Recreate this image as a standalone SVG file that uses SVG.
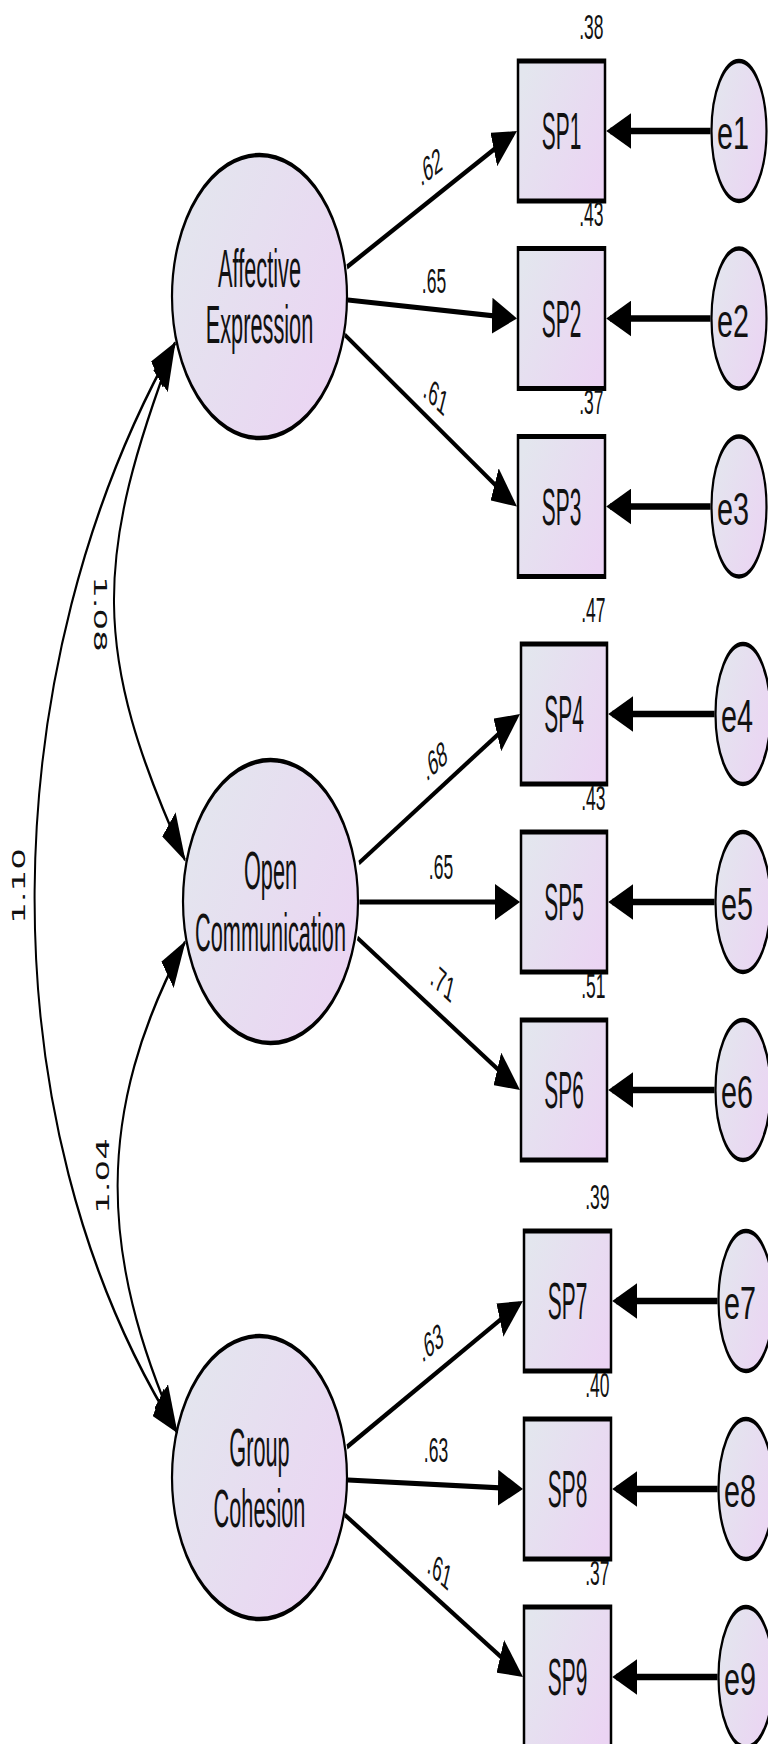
<svg xmlns="http://www.w3.org/2000/svg" width="768" height="1744" viewBox="0 0 768 1744">
  <style>
    .shape { fill: url(#fillGrad); stroke: #000; }
    .latent { stroke-width: 2.2; }
    .obs { stroke-width: 2.5; }
    .err { stroke-width: 2.2; }
    .load { stroke: #000; stroke-width: 2.6; fill: none; marker-end: url(#head); }
    .eline { stroke: #000; stroke-width: 3.2; fill: none; marker-end: url(#head); }
    .cov { stroke: #000; stroke-width: 2; fill: none; marker-start: url(#headc); marker-end: url(#headc); }
    text { font-family: "Liberation Sans", Arial, sans-serif; fill: #111; }
    .lv { font-size: 26.5px; text-anchor: middle; }
    .ov { font-size: 25.5px; text-anchor: middle; }
    .ev { font-size: 23px; text-anchor: middle; }
    .num { font-size: 17.5px; text-anchor: middle; }
    .r2 { font-size: 17.5px; text-anchor: end; }
    .cv { font-family: "DejaVu Sans", sans-serif; font-size: 17px; text-anchor: middle; }
  </style>
  <defs>
    <linearGradient id="fillGrad" x1="0" y1="0.2" x2="1" y2="0.8">
      <stop offset="0" stop-color="#E3E6EE"/>
      <stop offset="1" stop-color="#EBD4F3"/>
    </linearGradient>
    <marker id="head" markerUnits="userSpaceOnUse" markerWidth="25" markerHeight="18" viewBox="0 0 25 18" refX="21" refY="9" orient="auto">
      <path d="M0,0 L25,9 L0,18 z" fill="#000"/>
    </marker>
    <marker id="headc" markerUnits="userSpaceOnUse" markerWidth="25" markerHeight="18" viewBox="0 0 25 18" refX="24" refY="9" orient="auto-start-reverse">
      <path d="M0,0 L25,9 L0,18 z" fill="#000"/>
    </marker>
  </defs>

  <!-- drawing space is compressed vertically by half and stretched back -->
  <g transform="scale(1,2)">

    <!-- latent factors -->
    <g id="affective-expression">
      <ellipse class="shape latent" cx="259.5" cy="148.25" rx="87.5" ry="70.75"/>
      <text class="lv" transform="translate(259.5,143.5) scale(0.82,1)">Affective</text>
      <text class="lv" transform="translate(259.5,171.5) scale(0.82,1)">Expression</text>
    </g>
    <g id="open-communication">
      <ellipse class="shape latent" cx="270.5" cy="450.75" rx="87.5" ry="70.75"/>
      <text class="lv" transform="translate(270.5,444.5) scale(0.82,1)">Open</text>
      <text class="lv" transform="translate(270.5,475.25) scale(0.82,1)">Communication</text>
    </g>
    <g id="group-cohesion">
      <ellipse class="shape latent" cx="259.5" cy="738.75" rx="87.5" ry="70.75"/>
      <text class="lv" transform="translate(259.5,733) scale(0.82,1)">Group</text>
      <text class="lv" transform="translate(259.5,763.5) scale(0.82,1)">Cohesion</text>
    </g>

    <!-- observed items -->
    <g id="sp1">
      <rect class="shape obs" x="518" y="30.5" width="87" height="70"/>
      <text class="ov" transform="translate(561.5,74.5) scale(0.82,1)">SP1</text>
      <text class="r2" x="603.5" y="19.5">.38</text>
    </g>
    <g id="sp2">
      <rect class="shape obs" x="518" y="124.25" width="87" height="70"/>
      <text class="ov" transform="translate(561.5,168.25) scale(0.82,1)">SP2</text>
      <text class="r2" x="603.5" y="113.25">.43</text>
    </g>
    <g id="sp3">
      <rect class="shape obs" x="518" y="218.25" width="87" height="70"/>
      <text class="ov" transform="translate(561.5,262.25) scale(0.82,1)">SP3</text>
      <text class="r2" x="603.5" y="207.25">.37</text>
    </g>
    <g id="sp4">
      <rect class="shape obs" x="521" y="322" width="86" height="70"/>
      <text class="ov" transform="translate(564,366) scale(0.82,1)">SP4</text>
      <text class="r2" x="605.5" y="311">.47</text>
    </g>
    <g id="sp5">
      <rect class="shape obs" x="521" y="416" width="86" height="70"/>
      <text class="ov" transform="translate(564,460) scale(0.82,1)">SP5</text>
      <text class="r2" x="605.5" y="405">.43</text>
    </g>
    <g id="sp6">
      <rect class="shape obs" x="521" y="510" width="86" height="70"/>
      <text class="ov" transform="translate(564,554) scale(0.82,1)">SP6</text>
      <text class="r2" x="605.5" y="499">.51</text>
    </g>
    <g id="sp7">
      <rect class="shape obs" x="524" y="615.5" width="87" height="70"/>
      <text class="ov" transform="translate(567.5,659.5) scale(0.82,1)">SP7</text>
      <text class="r2" x="609.5" y="604.5">.39</text>
    </g>
    <g id="sp8">
      <rect class="shape obs" x="524" y="709.5" width="87" height="70"/>
      <text class="ov" transform="translate(567.5,753.5) scale(0.82,1)">SP8</text>
      <text class="r2" x="609.5" y="698.5">.40</text>
    </g>
    <g id="sp9">
      <rect class="shape obs" x="524" y="803.5" width="87" height="70"/>
      <text class="ov" transform="translate(567.5,847.5) scale(0.82,1)">SP9</text>
      <text class="r2" x="609.5" y="792.5">.37</text>
    </g>

    <!-- error terms -->
    <g id="e1">
      <ellipse class="shape err" cx="739" cy="65.5" rx="27.5" ry="35"/>
      <text class="ev" transform="translate(733,74.5) scale(1.25,1)">e1</text>
    </g>
    <g id="e2">
      <ellipse class="shape err" cx="739" cy="159.25" rx="27.5" ry="35"/>
      <text class="ev" transform="translate(733,168.25) scale(1.25,1)">e2</text>
    </g>
    <g id="e3">
      <ellipse class="shape err" cx="739" cy="253.25" rx="27.5" ry="35"/>
      <text class="ev" transform="translate(733,262.25) scale(1.25,1)">e3</text>
    </g>
    <g id="e4">
      <ellipse class="shape err" cx="743" cy="357" rx="27.5" ry="35"/>
      <text class="ev" transform="translate(737,366) scale(1.25,1)">e4</text>
    </g>
    <g id="e5">
      <ellipse class="shape err" cx="743" cy="451" rx="27.5" ry="35"/>
      <text class="ev" transform="translate(737,460) scale(1.25,1)">e5</text>
    </g>
    <g id="e6">
      <ellipse class="shape err" cx="743" cy="545" rx="27.5" ry="35"/>
      <text class="ev" transform="translate(737,554) scale(1.25,1)">e6</text>
    </g>
    <g id="e7">
      <ellipse class="shape err" cx="746" cy="650.5" rx="27.5" ry="35"/>
      <text class="ev" transform="translate(740,659.5) scale(1.25,1)">e7</text>
    </g>
    <g id="e8">
      <ellipse class="shape err" cx="746" cy="744.5" rx="27.5" ry="35"/>
      <text class="ev" transform="translate(740,753.5) scale(1.25,1)">e8</text>
    </g>
    <g id="e9">
      <ellipse class="shape err" cx="746" cy="838.5" rx="27.5" ry="35"/>
      <text class="ev" transform="translate(740,847.5) scale(1.25,1)">e9</text>
    </g>

    <!-- paths: loadings, residuals, covariances -->
    <g id="connectors">
      <path class="load" d="M347,133.5 L513.3,67"/>
      <path class="load" d="M348,150 L513,159"/>
      <path class="load" d="M345,167.5 L513.4,251.5"/>
      <path class="load" d="M359,431.5 L516.4,358.7"/>
      <path class="load" d="M359.5,451 L516,451"/>
      <path class="load" d="M357.5,469 L516.4,543.3"/>
      <path class="load" d="M347,723.5 L519.3,652"/>
      <path class="load" d="M348,740 L519,744.4"/>
      <path class="load" d="M345,757.5 L519.4,836.8"/>

      <path class="eline" d="M710.5,65.5 H610.25"/>
      <path class="eline" d="M710.5,159.25 H610.25"/>
      <path class="eline" d="M710.5,253.25 H610.25"/>
      <path class="eline" d="M714.5,357 H612.25"/>
      <path class="eline" d="M714.5,451 H612.25"/>
      <path class="eline" d="M714.5,545 H612.25"/>
      <path class="eline" d="M717.5,650.5 H616.25"/>
      <path class="eline" d="M717.5,744.5 H616.25"/>
      <path class="eline" d="M717.5,838.5 H616.25"/>

      <path class="cov" d="M175,171.5 C94,279 90,325 185,430"/>
      <path class="cov" d="M175,171.5 C-6,332 -19,559 177,716"/>
      <path class="cov" d="M185,471 C94,556.5 99,627 177,716"/>

      <text class="num" transform="translate(430,83) rotate(-21.7)" y="6.3">.62</text>
      <text class="num" transform="translate(434,140)" y="6.3">.65</text>
      <text class="num" transform="translate(436,197.5) rotate(26.3)" y="6.3">.61</text>
      <text class="num" transform="translate(435,380) rotate(-24.8)" y="6.3">.68</text>
      <text class="num" transform="translate(441,433)" y="6.3">.65</text>
      <text class="num" transform="translate(443,491) rotate(25.1)" y="6.3">.71</text>
      <text class="num" transform="translate(431,671) rotate(-22.5)" y="6.3">.63</text>
      <text class="num" transform="translate(436,724.5)" y="6.3">.63</text>
      <text class="num" transform="translate(440,785) rotate(24.5)" y="6.3">.61</text>

      <text class="cv" transform="translate(100,307) rotate(90)" y="6">1.08</text>
      <text class="cv" transform="translate(19,443) rotate(-90)" y="6">1.10</text>
      <text class="cv" transform="translate(103,588) rotate(-90)" y="6">1.04</text>
    </g>
  </g>
</svg>
